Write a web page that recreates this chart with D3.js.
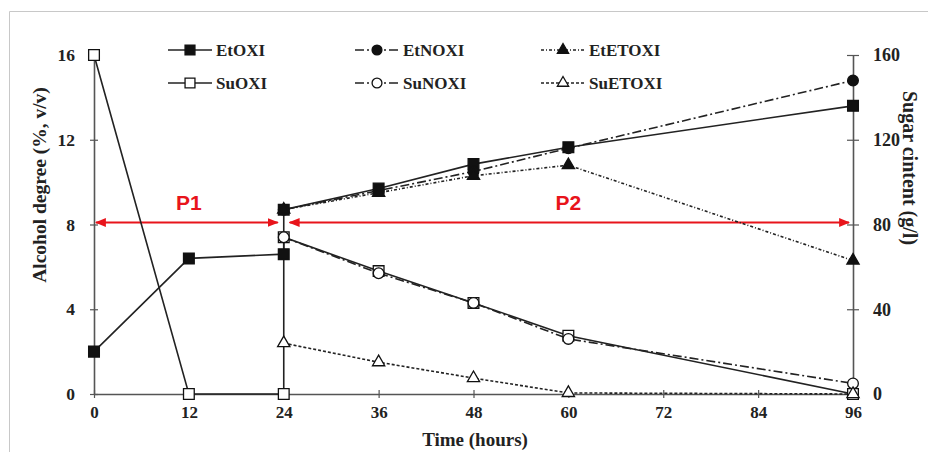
<!DOCTYPE html>
<html><head><meta charset="utf-8">
<script src="https://cdn.jsdelivr.net/npm/d3@7"></script>
<style>html,body{margin:0;padding:0;background:#fff;}svg{display:block;}</style>
</head><body>
<svg id="chart" width="928" height="452"></svg>
<script>
// ---- data ----
const xTicks = [0, 12, 24, 36, 48, 60, 72, 84, 96];
const leftTicks = [0, 4, 8, 12, 16];
const rightTicks = [0, 40, 80, 120, 160];

// Alcohol degree (%, v/v) – left axis
const etOXI_t = [0, 12, 24, 24, 36, 48, 60, 96];
const etOXI_v = [2.0, 6.4, 6.6, 8.7, 9.7, 10.85, 11.65, 13.6];
const etNOXI_t = [24, 36, 48, 60, 96];
const etNOXI_v = [8.7, 9.6, 10.5, 11.6, 14.8];
const etETOXI_t = [24, 36, 48, 60, 96];
const etETOXI_v = [8.7, 9.5, 10.3, 10.8, 6.3];

// Sugar content (g/l) – right axis
const suOXI_t = [0, 12, 24, 24, 36, 48, 60, 96];
const suOXI_v = [160, 0, 0, 74, 58, 43, 27.5, 0];
const suNOXI_t = [24, 36, 48, 60, 96];
const suNOXI_v = [74, 57, 43, 26, 5];
const suETOXI_t = [24, 36, 48, 60, 96];
const suETOXI_v = [24, 15, 7.5, 0.5, 0];

const phases = ["P1", "P2"];
const phaseStart = [0, 24];
const phaseEnd = [24, 96];
const phaseLabelAt = [12, 60];
const phaseLevel = 8;

const legendNames = ["EtOXI", "EtNOXI", "EtETOXI", "SuOXI", "SuNOXI", "SuETOXI"];

// ---- layout ----
const svg = d3.select("#chart");
const L = 94, R = 853, T = 55, B = 394;
const x = d3.scaleLinear().domain([0, 96]).range([L, R]);
const yL = d3.scaleLinear().domain([0, 16]).range([B, T]);
const yR = d3.scaleLinear().domain([0, 160]).range([B, T]);

const serif = "'Liberation Serif','Times New Roman',serif";
const axisCol = "#555";

// outer frame
svg.append("path").attr("d", "M9.5,452 L9.5,11.5 L928,11.5").attr("fill", "none").attr("stroke", "#c8c8c8").attr("stroke-width", 1);

// defs: arrowhead
const defs = svg.append("defs");
defs.append("marker").attr("id", "arr").attr("viewBox", "0 0 10 10").attr("refX", 9).attr("refY", 5)
  .attr("markerWidth", 5).attr("markerHeight", 5).attr("orient", "auto-start-reverse")
  .append("path").attr("d", "M0,1 L10,5 L0,9 Z").attr("fill", "#e8141b");

// axes
function styleAxis(g, size) {
  g.selectAll("path.domain").attr("stroke", axisCol).attr("stroke-width", 1.6);
  g.selectAll(".tick line").attr("stroke", axisCol).attr("stroke-width", 1.2);
  g.selectAll(".tick text").attr("font-family", serif).attr("font-weight", "bold").attr("font-size", size).attr("fill", "#222");
}
const gx = svg.append("g").attr("transform", `translate(0,${B})`)
  .call(d3.axisBottom(x).tickValues(xTicks).tickSize(4).tickSizeOuter(0).tickPadding(8));
gx.selectAll(".tick line").attr("y1", -4);
styleAxis(gx, 17);

const gl = svg.append("g").attr("transform", `translate(${L},0)`)
  .call(d3.axisLeft(yL).tickValues(leftTicks).tickSize(4).tickSizeOuter(0).tickPadding(15));
gl.selectAll(".tick line").attr("x1", 4);
styleAxis(gl, 17.5);

const gr = svg.append("g").attr("transform", `translate(${R},0)`)
  .call(d3.axisRight(yR).tickValues(rightTicks).tickSize(6).tickSizeOuter(0).tickPadding(14));
gr.selectAll(".tick line").attr("x1", -6);
styleAxis(gr, 18);

// axis titles
svg.append("text").attr("transform", `translate(46,185) rotate(-90)`).attr("text-anchor", "middle")
  .attr("font-family", serif).attr("font-weight", "bold").attr("font-size", 19.5).attr("fill", "#222")
  .text("Alcohol degree  (%, v/v)");
svg.append("text").attr("transform", `translate(903,168) rotate(90)`).attr("text-anchor", "middle")
  .attr("font-family", serif).attr("font-weight", "bold").attr("font-size", 20).attr("fill", "#222")
  .text("Sugar cintent (g/l)");
svg.append("text").attr("x", 475).attr("y", 446).attr("text-anchor", "middle")
  .attr("font-family", serif).attr("font-weight", "bold").attr("font-size", 19).attr("fill", "#222")
  .text("Time (hours)");

// phase arrows
phases.forEach((p, i) => {
  const x1 = x(phaseStart[i]) + (i === 0 ? 2 : 6);
  const x2 = x(phaseEnd[i]) - (i === 0 ? 6 : 4);
  svg.append("line").attr("x1", x1).attr("x2", x2).attr("y1", yL(phaseLevel) - 2).attr("y2", yL(phaseLevel) - 2)
    .attr("stroke", "#e8141b").attr("stroke-width", 2.2)
    .attr("marker-start", "url(#arr)").attr("marker-end", "url(#arr)");
  svg.append("text").attr("x", x(phaseLabelAt[i])).attr("y", yL(phaseLevel) - 15)
    .attr("text-anchor", "middle").attr("font-family", "'Liberation Sans',Arial,sans-serif")
    .attr("font-weight", "bold").attr("font-size", 21).attr("fill", "#e8141b").text(p);
});

// series
const series = [
  { name: "EtOXI", t: etOXI_t, v: etOXI_v, y: yL, dash: null, sym: "square", fill: "#111" },
  { name: "EtNOXI", t: etNOXI_t, v: etNOXI_v, y: yL, dash: "9,3,2,3", sym: "circle", fill: "#111" },
  { name: "EtETOXI", t: etETOXI_t, v: etETOXI_v, y: yL, dash: "3,2,1,2", sym: "triangle", fill: "#111" },
  { name: "SuOXI", t: suOXI_t, v: suOXI_v, y: yR, dash: null, sym: "square", fill: "#fff" },
  { name: "SuNOXI", t: suNOXI_t, v: suNOXI_v, y: yR, dash: "9,3,2,3", sym: "circle", fill: "#fff" },
  { name: "SuETOXI", t: suETOXI_t, v: suETOXI_v, y: yR, dash: "3,2", sym: "triangle", fill: "#fff" }
];
const symType = { square: d3.symbolSquare, circle: d3.symbolCircle, triangle: d3.symbolTriangle };
const symSize = { square: 115, circle: 90, triangle: 65 };

series.forEach(s => {
  const pts = s.t.map((t, i) => [x(t), s.y(s.v[i])]);
  svg.append("path").attr("d", d3.line()(pts)).attr("fill", "none").attr("stroke", "#222")
    .attr("stroke-width", 1.6).attr("stroke-dasharray", s.dash);
});
series.forEach(s => {
  const pts = s.t.map((t, i) => [x(t), s.y(s.v[i])]);
  const sym = d3.symbol().type(symType[s.sym]).size(symSize[s.sym]);
  svg.append("g").selectAll("path").data(pts).join("path")
    .attr("transform", d => `translate(${d[0]},${d[1]})`).attr("d", sym())
    .attr("fill", s.fill).attr("stroke", "#111").attr("stroke-width", 1.3);
});

// legend
const colX = [168, 355, 541];
const rowY = [50, 83];
legendNames.forEach((n, i) => {
  const s = series.find(d => d.name === n);
  const cx = colX[i % 3], cy = rowY[Math.floor(i / 3)];
  const g = svg.append("g").attr("transform", `translate(${cx},${cy})`);
  g.append("line").attr("x1", 0).attr("x2", 44).attr("y1", 0).attr("y2", 0)
    .attr("stroke", "#222").attr("stroke-width", 1.6).attr("stroke-dasharray", s.dash);
  g.append("path").attr("transform", "translate(22,0)")
    .attr("d", d3.symbol().type(symType[s.sym]).size(symSize[s.sym] * 0.85)())
    .attr("fill", s.fill).attr("stroke", "#111").attr("stroke-width", 1.3);
  g.append("text").attr("x", 48).attr("y", 6).attr("font-family", serif).attr("font-weight", "bold")
    .attr("font-size", 17).attr("fill", "#222").text(n);
});
</script>
</body></html>
